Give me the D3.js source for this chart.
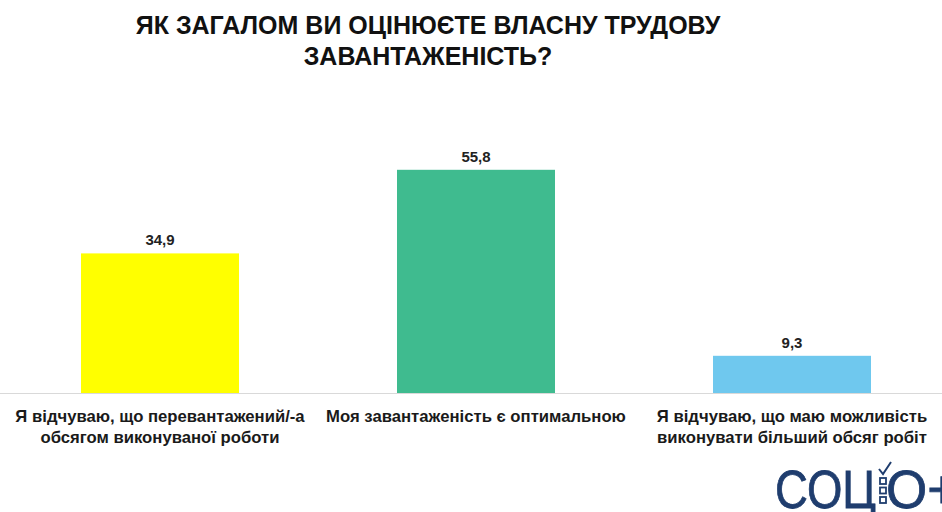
<!DOCTYPE html>
<html><head><meta charset="utf-8">
<script src="https://cdn.jsdelivr.net/npm/d3@7"></script>
<style>html,body{margin:0;padding:0;background:#fff;}svg{display:block;}</style>
</head><body><svg id="c" width="942" height="512"></svg>
<script>
const titleLines = ["ЯК ЗАГАЛОМ ВИ ОЦІНЮЄТЕ ВЛАСНУ ТРУДОВУ", "ЗАВАНТАЖЕНІСТЬ?"];
const categories = [
  ["Я відчуваю, що перевантажений/-а", "обсягом виконуваної роботи"],
  ["Моя завантаженість є оптимальною"],
  ["Я відчуваю, що маю можливість", "виконувати більший обсяг робіт"]
];
const values = [34.9, 55.8, 9.3];
const valueLabels = ["34,9", "55,8", "9,3"];
const colors = ["#ffff00", "#3fbb8f", "#6fc8ee"];

const svg = d3.select("#c");
const x = d3.scaleBand().domain(d3.range(categories.length)).range([2, 950]).paddingInner(0.5).paddingOuter(0.25);
const y = d3.scaleLinear().domain([0, 60]).range([393, 153]);
const font = "'Liberation Sans', Arial, sans-serif";

// title
svg.append("g").selectAll("text").data(titleLines).join("text")
  .attr("x", 428).attr("y", (d, i) => 34 + i * 31)
  .attr("text-anchor", "middle")
  .attr("font-family", font)
  .attr("font-weight", "bold").attr("font-size", 25).attr("fill", "#111")
  .text(d => d);

// baseline
svg.append("line").attr("x1", 0).attr("x2", 942).attr("y1", y(0) + 0.5).attr("y2", y(0) + 0.5)
  .attr("stroke", "#d9d9d9").attr("stroke-width", 1);

// bars
svg.append("g").selectAll("rect").data(values).join("rect")
  .attr("x", (d, i) => x(i)).attr("width", x.bandwidth())
  .attr("y", d => y(d)).attr("height", d => y(0) - y(d))
  .attr("fill", (d, i) => colors[i]);

// value labels
svg.append("g").selectAll("text").data(values).join("text")
  .attr("x", (d, i) => x(i) + x.bandwidth() / 2).attr("y", d => y(d) - 8)
  .attr("text-anchor", "middle")
  .attr("font-family", font)
  .attr("font-weight", "bold").attr("font-size", 15).attr("fill", "#222")
  .text((d, i) => valueLabels[i]);

// category labels
const xAxis = svg.append("g");
categories.forEach((lines, i) => {
  const t = xAxis.append("text")
    .attr("x", x(i) + x.bandwidth() / 2).attr("y", 422)
    .attr("text-anchor", "middle")
    .attr("font-family", font)
    .attr("font-weight", "bold").attr("font-size", 16.7).attr("fill", "#1a1a1a");
  lines.forEach((l, j) => t.append("tspan").attr("x", x(i) + x.bandwidth() / 2).attr("dy", j ? 21 : 0).text(l));
});

// logo
const navy = "#1f3d6e";
const logo = svg.append("g").attr("fill", navy);
logo.append("text").attr("x", 775).attr("y", 508)
  .attr("font-family", font).attr("stroke", navy).attr("stroke-width", 0.8)
  .attr("font-size", 53).attr("textLength", 101).attr("lengthAdjust", "spacingAndGlyphs")
  .text("СОЦ");
[0, 1, 2].forEach(k => logo.append("rect").attr("x", 880).attr("y", 478 + k * 9.5)
  .attr("width", 6).attr("height", 6).attr("fill", "none").attr("stroke", navy).attr("stroke-width", 1.8));
logo.append("path").attr("d", "M879,469 L883,474 L891,462").attr("fill", "none").attr("stroke", navy).attr("stroke-width", 2);
logo.append("text").attr("x", 886).attr("y", 508)
  .attr("font-family", font).attr("stroke", navy).attr("stroke-width", 0.8)
  .attr("font-size", 53).text("О+");
</script></body></html>
